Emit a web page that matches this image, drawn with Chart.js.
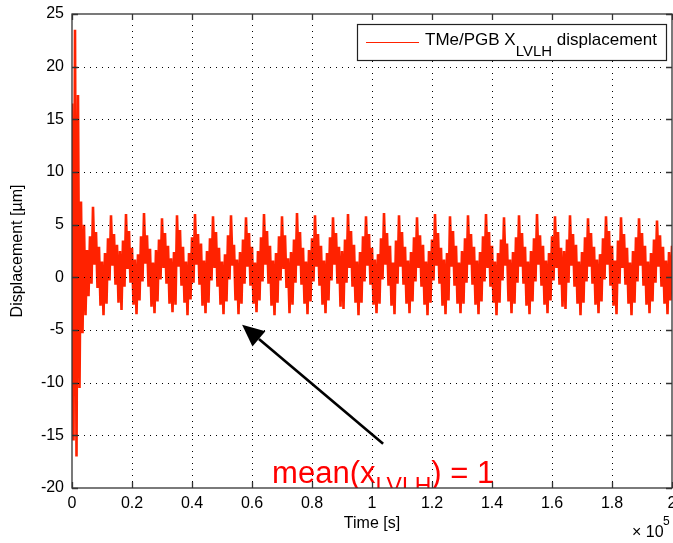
<!DOCTYPE html>
<html>
<head>
<meta charset="utf-8">
<script src="https://cdn.jsdelivr.net/npm/chart.js@4/dist/chart.umd.min.js"></script>
<style>
  html, body { margin: 0; padding: 0; background: #fff; }
</style>
</head>
<body>
<canvas id="c" width="673" height="543"></canvas>
<script>
// time axis is in units of 1e5 s, one envelope sample every dt
const dt = 0.01;

// upper / lower edge of the red trace read column by column
const upper = [
  16.5, 23.5, 17.3, 7.2, 5.0, 2.6, 3.9, 6.7, 4.3, 2.9,
  1.5, 2.3, 3.7, 5.9, 4.1, 3.1, 2.5, 3.5, 6.0, 4.4,
  2.8, 1.7, 2.2, 3.9, 6.1, 4.0, 2.7, 1.4, 2.6, 3.6,
  5.6, 4.2, 3.0, 1.8, 2.4, 5.9, 4.5, 2.9, 1.5, 2.3,
  3.8, 6.0, 4.1, 3.2, 1.6, 2.5, 3.7, 5.8, 4.3, 2.8,
  1.5, 2.2, 4.0, 5.9, 3.1, 1.7, 2.4, 3.6, 5.7, 4.2,
  2.9, 1.4, 2.5, 3.8, 6.0, 4.4, 3.0, 1.6, 2.3, 3.9,
  5.8, 4.0, 1.8, 2.4, 3.6, 6.1, 4.3, 2.8, 1.5, 2.6,
  3.7, 5.9, 4.1, 3.0, 1.6, 2.3, 3.8, 5.7, 4.2, 2.9,
  2.5, 3.6, 6.0, 4.4, 3.1, 1.5, 2.4, 3.9, 5.8, 4.1,
  2.8, 1.7, 2.2, 3.7, 6.1, 4.2, 3.0, 1.4, 3.5, 5.9,
  4.3, 2.9, 1.6, 2.4, 3.8, 5.7, 4.0, 3.1, 1.5, 2.5,
  3.6, 6.0, 4.2, 2.8, 1.7, 2.3, 5.8, 4.4, 3.0, 1.4,
  2.5, 3.7, 5.9, 4.1, 2.9, 1.6, 2.4, 3.9, 6.0, 4.3,
  3.0, 1.5, 2.3, 3.6, 5.7, 3.2, 1.7, 2.4, 3.8, 5.9,
  4.2, 2.9, 1.5, 2.5, 3.7, 6.0, 4.0, 3.0, 1.6, 2.3,
  3.9, 5.8, 4.3, 2.8, 2.5, 3.6, 5.9, 4.1, 3.1, 1.5,
  2.4, 3.8, 5.6, 4.2, 2.9, 1.7, 2.2, 3.7, 5.8, 4.4,
  3.0, 1.6, 3.5, 5.7, 4.1, 2.8, 1.4, 2.5, 3.8, 5.6,
  4.2, 3.0, 1.5, 2.3, 3.6, 5.4, 4.0, 2.9, 1.6, 2.4, 3.0
];
const lower = [
  -15.5, -17.0, -10.5, -5.3, -3.6, -1.8, -0.6, 1.2, -1.0, -2.7,
  -3.6, -2.5, -0.3, 1.1, -0.7, -2.4, -3.1, -0.9, 0.8, -0.5,
  -2.6, -3.5, -2.2, -0.4, 1.3, -0.9, -2.8, -3.4, -2.3, -0.2,
  0.9, -0.6, -2.5, -3.3, -2.6, 1.0, -0.8, -2.4, -3.6, -2.1,
  -0.5, 1.2, -0.7, -2.7, -3.4, -2.4, -0.3, 0.9, -0.9, -2.6,
  -3.5, -2.3, -0.2, 1.1, -2.2, -3.5, -2.5, -0.6, 1.0, -0.8,
  -2.5, -3.3, -2.2, -0.4, 1.2, -0.6, -2.7, -3.6, -2.4, -0.3,
  0.8, -1.0, -3.4, -2.6, -0.5, 1.1, -0.7, -2.5, -3.5, -2.3,
  -0.4, 1.0, -0.8, -2.6, -3.4, -2.2, -0.3, 1.2, -0.6, -2.8,
  -3.0, -0.5, 0.9, -0.9, -2.4, -3.6, -2.4, -0.4, 1.1, -0.7,
  -2.6, -3.4, -2.5, -0.2, 1.2, -0.8, -2.7, -3.5, -0.6, 1.0,
  -0.7, -2.5, -3.4, -2.3, -0.4, 0.9, -0.9, -2.6, -3.6, -2.4,
  -0.3, 1.1, -0.6, -2.7, -3.5, -2.2, 1.0, -0.8, -2.5, -3.4,
  -2.5, -0.5, 1.2, -0.7, -2.6, -3.5, -2.3, -0.4, 0.9, -0.9,
  -2.4, -3.6, -2.4, -0.3, 1.1, -2.3, -3.4, -2.5, -0.5, 1.0,
  -0.6, -2.7, -3.5, -2.3, -0.4, 1.2, -0.8, -2.6, -3.4, -2.2,
  -0.3, 0.9, -0.7, -2.8, -3.0, -0.5, 1.1, -0.9, -2.5, -3.6,
  -2.4, -0.4, 1.0, -0.6, -2.6, -3.4, -2.3, -0.2, 1.2, -0.8,
  -2.7, -3.5, -0.6, 0.9, -0.7, -2.5, -3.6, -2.4, -0.4, 1.1,
  -0.8, -2.6, -3.4, -2.3, -0.5, 1.0, -0.9, -2.5, -3.5, -2.2, -2.4
];

const xTicks = [0, 0.2, 0.4, 0.6, 0.8, 1, 1.2, 1.4, 1.6, 1.8, 2];
const yTicks = [-20, -15, -10, -5, 0, 5, 10, 15, 20, 25];

// annotation, in data coordinates
const arrowTail = [1.037, -15.8];
const arrowTip = [0.567, -4.5];
const noteAt = [0.667, -19.5];

const RED = '#ff2200';
const FONT = '"Liberation Sans", Arial, sans-serif';

Chart.defaults.font.family = FONT;
Chart.defaults.color = '#000';

// zig-zag between the two edges so the trace reads as a filled band
const points = [];
upper.forEach((hi, i) => {
  points.push({ x: i * dt, y: hi });
  points.push({ x: i * dt + dt / 2, y: lower[i] });
});

const matlabFrame = {
  id: 'matlabFrame',
  afterDatasetsDraw(chart) {
    const { ctx, chartArea: a, scales: { x, y } } = chart;
    ctx.save();

    // dotted grid on top of the trace
    ctx.strokeStyle = '#000';
    ctx.lineWidth = 1;
    ctx.setLineDash([1, 5]);
    xTicks.forEach((v) => {
      if (v <= x.min || v >= x.max) return;
      const px = Math.round(x.getPixelForValue(v)) + 0.5;
      ctx.beginPath();
      ctx.moveTo(px, a.bottom);
      ctx.lineTo(px, a.top);
      ctx.stroke();
    });
    yTicks.forEach((v) => {
      if (v <= y.min || v >= y.max) return;
      const py = Math.round(y.getPixelForValue(v)) + 0.5;
      ctx.beginPath();
      ctx.moveTo(a.left, py);
      ctx.lineTo(a.right, py);
      ctx.stroke();
    });
    ctx.setLineDash([]);

    // arrow + note
    ctx.save();
    ctx.beginPath();
    ctx.rect(a.left, a.top, a.right - a.left, a.bottom - a.top);
    ctx.clip();
    const tx = x.getPixelForValue(arrowTail[0]), ty = y.getPixelForValue(arrowTail[1]);
    const hx = x.getPixelForValue(arrowTip[0]), hy = y.getPixelForValue(arrowTip[1]);
    const ang = Math.atan2(hy - ty, hx - tx);
    const headLen = 22, headHalf = 10;
    const bx = hx - headLen * Math.cos(ang), by = hy - headLen * Math.sin(ang);
    ctx.strokeStyle = '#000';
    ctx.lineWidth = 2.6;
    ctx.beginPath();
    ctx.moveTo(tx, ty);
    ctx.lineTo(bx, by);
    ctx.stroke();
    ctx.fillStyle = '#000';
    ctx.beginPath();
    ctx.moveTo(hx, hy);
    ctx.lineTo(bx + headHalf * Math.sin(ang), by - headHalf * Math.cos(ang));
    ctx.lineTo(bx - headHalf * Math.sin(ang), by + headHalf * Math.cos(ang));
    ctx.closePath();
    ctx.fill();

    let nx = x.getPixelForValue(noteAt[0]);
    const ny = y.getPixelForValue(noteAt[1]);
    ctx.fillStyle = '#ff0000';
    ctx.textBaseline = 'alphabetic';
    ctx.textAlign = 'left';
    ctx.font = '31px ' + FONT;
    ctx.fillText('mean(x', nx, ny);
    nx += ctx.measureText('mean(x').width;
    ctx.font = '23px ' + FONT;
    ctx.fillText('LVLH', nx, ny + 11);
    nx += ctx.measureText('LVLH').width;
    ctx.font = '31px ' + FONT;
    ctx.fillText(') = 1', nx, ny);
    ctx.restore();

    // box and inward ticks
    ctx.strokeStyle = '#333';
    ctx.lineWidth = 1.3;
    const tl = 6;
    ctx.beginPath();
    xTicks.forEach((v) => {
      const px = Math.round(x.getPixelForValue(v)) + 0.5;
      ctx.moveTo(px, a.bottom);
      ctx.lineTo(px, a.bottom - tl);
      ctx.moveTo(px, a.top);
      ctx.lineTo(px, a.top + tl);
    });
    yTicks.forEach((v) => {
      const py = Math.round(y.getPixelForValue(v)) + 0.5;
      ctx.moveTo(a.left, py);
      ctx.lineTo(a.left + tl, py);
      ctx.moveTo(a.right, py);
      ctx.lineTo(a.right - tl, py);
    });
    ctx.stroke();
    ctx.strokeRect(a.left, a.top, a.right - a.left, a.bottom - a.top);

    // exponent label
    ctx.fillStyle = '#000';
    ctx.textAlign = 'left';
    ctx.font = '16px ' + FONT;
    ctx.fillText('\u00d7 10', a.right - 40, a.bottom + 49);
    ctx.font = '12px ' + FONT;
    ctx.fillText('5', a.right - 9, a.bottom + 37);
    ctx.restore();
  },
  afterDraw(chart) {
    const { ctx, chartArea: a } = chart;
    ctx.save();
    ctx.font = '17px ' + FONT;
    const w1 = ctx.measureText('TMe/PGB X').width;
    const w3 = ctx.measureText(' displacement').width;
    ctx.font = '15px ' + FONT;
    const w2 = ctx.measureText('LVLH').width;
    const boxW = 68 + w1 + w2 + w3 + 9;
    const boxH = 36;
    const x1 = a.right - 6 - boxW;
    const y1 = a.top + 10;
    ctx.fillStyle = '#fff';
    ctx.fillRect(x1, y1, boxW, boxH);
    ctx.strokeStyle = '#222';
    ctx.lineWidth = 1.2;
    ctx.strokeRect(Math.round(x1) + 0.5, y1 + 0.5, Math.round(boxW), boxH);
    ctx.strokeStyle = RED;
    ctx.lineWidth = 1;
    ctx.beginPath();
    ctx.moveTo(x1 + 9, y1 + 18.5);
    ctx.lineTo(x1 + 62, y1 + 18.5);
    ctx.stroke();
    ctx.fillStyle = '#000';
    ctx.textBaseline = 'alphabetic';
    let tx = x1 + 68;
    ctx.font = '17px ' + FONT;
    ctx.fillText('TMe/PGB X', tx, y1 + 21);
    tx += w1;
    ctx.font = '15px ' + FONT;
    ctx.fillText('LVLH', tx, y1 + 32);
    tx += w2;
    ctx.font = '17px ' + FONT;
    ctx.fillText(' displacement', tx, y1 + 21);
    ctx.restore();
  }
};

new Chart(document.getElementById('c'), {
  type: 'line',
  data: {
    datasets: [{
      label: 'TMe/PGB X LVLH displacement',
      data: points,
      borderColor: RED,
      borderWidth: 2.6,
      borderJoinStyle: 'miter',
      pointRadius: 0,
      tension: 0,
      fill: false,
    }],
  },
  options: {
    responsive: false,
    animation: false,
    events: [],
    layout: { padding: { top: 14, right: 1, left: 0, bottom: 0 } },
    plugins: {
      legend: { display: false },
      tooltip: { enabled: false },
    },
    scales: {
      x: {
        type: 'linear',
        min: 0,
        max: 2,
        afterBuildTicks: (s) => { s.ticks = xTicks.map((v) => ({ value: v })); },
        afterFit: (s) => { s.height = 55; s.paddingLeft = 0; s.paddingRight = 0; },
        ticks: {
          font: { size: 16 },
          padding: 6,
          maxRotation: 0,
          autoSkip: false,
          callback: (v) => String(v),
        },
        grid: { display: false, drawTicks: false },
        border: { display: false },
        title: { display: true, text: 'Time [s]', font: { size: 16 }, padding: { bottom: 10 } },
      },
      y: {
        type: 'linear',
        min: -20,
        max: 25,
        afterBuildTicks: (s) => { s.ticks = yTicks.map((v) => ({ value: v })); },
        afterFit: (s) => { s.width = 72; s.paddingTop = 0; s.paddingBottom = 0; },
        ticks: {
          font: { size: 16 },
          padding: 8,
          autoSkip: false,
          callback: (v) => String(v),
        },
        grid: { display: false, drawTicks: false },
        border: { display: false },
        title: { display: true, text: 'Displacement [\u00b5m]', font: { size: 16 }, padding: { top: 8 } },
      },
    },
  },
  plugins: [matlabFrame],
});
</script>
</body>
</html>
